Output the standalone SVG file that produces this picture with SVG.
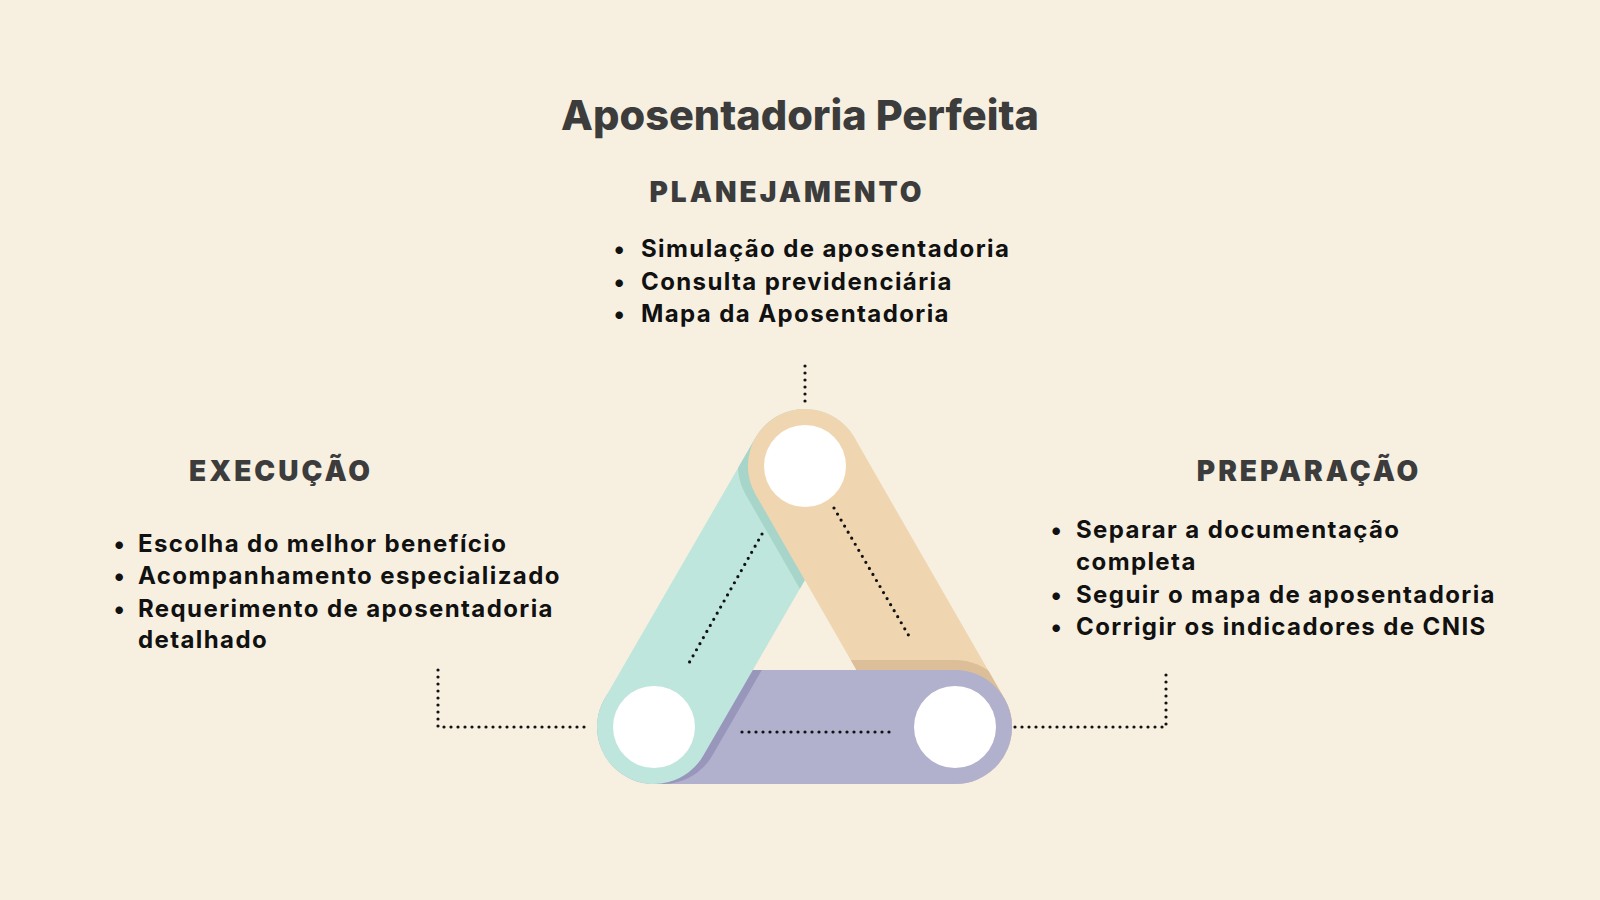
<svg xmlns="http://www.w3.org/2000/svg" xmlns:xlink="http://www.w3.org/1999/xlink" width="1600" height="900" viewBox="0 0 1600 900">
<style>
.cap{fill:none;stroke-width:114;stroke-linecap:round}
.dot{fill:none;stroke:#111;stroke-width:3.2;stroke-linecap:round;stroke-dasharray:0 7}
.title{font-family:Inter,"Liberation Sans",sans-serif;font-weight:800;font-size:41.5px;fill:#3c3c3c}
.head{font-family:Inter,"Liberation Sans",sans-serif;font-weight:900;font-size:28px;fill:#3c3c3c;letter-spacing:3px}
.item{font-family:Inter,"Liberation Sans",sans-serif;font-weight:700;font-size:24px;fill:#111;letter-spacing:1.4px}
</style>
<defs>
<line id="lt" x1="654" y1="727" x2="805" y2="466"/>
<line id="lo" x1="805" y1="466" x2="955" y2="727"/>
<line id="lp" x1="654" y1="727" x2="955" y2="727"/>
<mask id="mP" maskUnits="userSpaceOnUse" x="0" y="0" width="1600" height="900"><use xlink:href="#lp" class="cap" stroke="#fff"/></mask>
<mask id="mT" maskUnits="userSpaceOnUse" x="0" y="0" width="1600" height="900"><use xlink:href="#lt" class="cap" stroke="#fff"/></mask>
<mask id="mO" maskUnits="userSpaceOnUse" x="0" y="0" width="1600" height="900"><use xlink:href="#lo" class="cap" stroke="#fff"/></mask>
<clipPath id="rightPart"><rect x="800" y="0" width="800" height="900"/></clipPath>
</defs>
<rect width="1600" height="900" fill="#f7f0e1"/>

<g id="title"><text class="title" x="800" y="130" text-anchor="middle">Aposentadoria Perfeita</text></g>

<g id="triangle">
<use xlink:href="#lp" class="cap" stroke="#b1b0cd"/>
<g mask="url(#mP)"><use xlink:href="#lt" class="cap" stroke="#9896bb" transform="translate(9,0)"/></g>
<use xlink:href="#lt" class="cap" stroke="#bfe6dc"/>
<g mask="url(#mT)"><use xlink:href="#lo" class="cap" stroke="#a8d5c9" transform="translate(-10,0)"/></g>
<use xlink:href="#lo" class="cap" stroke="#f0d6b0"/>
<g mask="url(#mO)"><use xlink:href="#lp" class="cap" stroke="#dcbf98" transform="translate(0,-10)"/></g>
<g clip-path="url(#rightPart)"><use xlink:href="#lp" class="cap" stroke="#b1b0cd"/></g>
</g>

<g id="node-planejamento">
<circle cx="805" cy="466" r="41" fill="#fff"/>
<text class="head" x="787" y="202" text-anchor="middle">PLANEJAMENTO</text>
<text class="item"><tspan x="620" y="257" text-anchor="middle">•</tspan><tspan x="641" y="257">Simulação de aposentadoria</tspan></text>
<text class="item"><tspan x="620" y="290" text-anchor="middle">•</tspan><tspan x="641" y="290">Consulta previdenciária</tspan></text>
<text class="item"><tspan x="620" y="322" text-anchor="middle">•</tspan><tspan x="641" y="322">Mapa da Aposentadoria</tspan></text>
</g>

<g id="node-execucao">
<circle cx="654" cy="727" r="41" fill="#fff"/>
<text class="head" x="281" y="481" text-anchor="middle">EXECUÇÃO</text>
<text class="item"><tspan x="120" y="552" text-anchor="middle">•</tspan><tspan x="138" y="552">Escolha do melhor benefício</tspan></text>
<text class="item"><tspan x="120" y="584" text-anchor="middle">•</tspan><tspan x="138" y="584">Acompanhamento especializado</tspan></text>
<text class="item"><tspan x="120" y="617" text-anchor="middle">•</tspan><tspan x="138" y="617">Requerimento de aposentadoria</tspan></text>
<text class="item" x="138" y="648">detalhado</text>
</g>

<g id="node-preparacao">
<circle cx="955" cy="727" r="41" fill="#fff"/>
<text class="head" x="1309" y="481" text-anchor="middle">PREPARAÇÃO</text>
<text class="item"><tspan x="1057" y="538" text-anchor="middle">•</tspan><tspan x="1076" y="538">Separar a documentação</tspan></text>
<text class="item" x="1076" y="570">completa</text>
<text class="item"><tspan x="1057" y="603" text-anchor="middle">•</tspan><tspan x="1076" y="603">Seguir o mapa de aposentadoria</tspan></text>
<text class="item"><tspan x="1057" y="635" text-anchor="middle">•</tspan><tspan x="1076" y="635">Corrigir os indicadores de CNIS</tspan></text>
</g>

<g id="connectors">
<line class="dot" x1="805" y1="366" x2="805" y2="402"/>
<line class="dot" x1="834" y1="508" x2="909" y2="636"/>
<line class="dot" x1="762" y1="534" x2="689" y2="663"/>
<line class="dot" x1="742" y1="732" x2="890" y2="732"/>
<polyline class="dot" points="438,670 438,727 586,727"/>
<polyline class="dot" points="1015,727 1166,727 1166,668"/>
</g>
</svg>
